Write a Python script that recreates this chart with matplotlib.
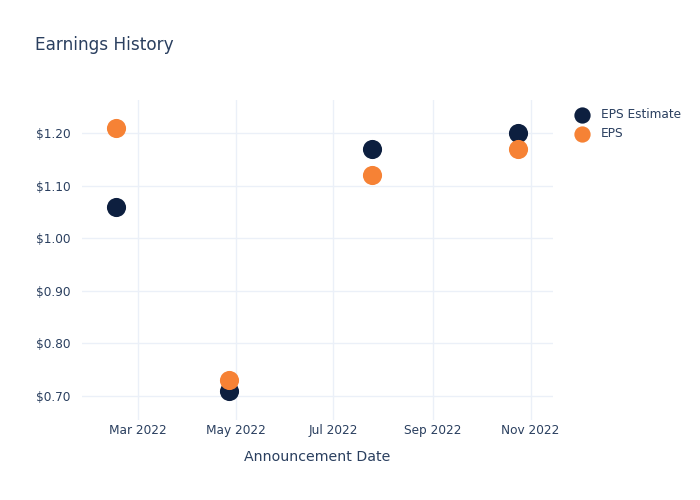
import matplotlib
matplotlib.use("Agg")
import matplotlib.pyplot as plt
import matplotlib.dates as mdates
from matplotlib.ticker import FuncFormatter
import datetime as dt

# announcement dates and values
dates = [dt.date(2022, 2, 15), dt.date(2022, 4, 27),
         dt.date(2022, 7, 25), dt.date(2022, 10, 24)]
eps_estimate = [1.06, 0.71, 1.17, 1.20]
eps_actual = [1.21, 0.73, 1.12, 1.17]
y_ticks = [0.70, 0.80, 0.90, 1.00, 1.10, 1.20]
x_ticks = [dt.date(2022, 3, 1), dt.date(2022, 5, 1), dt.date(2022, 7, 1),
           dt.date(2022, 9, 1), dt.date(2022, 11, 1)]

text_col = "#2a3f5f"
grid_col = "#ebf0f8"
navy = "#0d1f3f"
orange = "#f68235"

plt.rcParams['font.family'] = ['DejaVu Sans']

fig = plt.figure(figsize=(7, 5), dpi=100)
ax = fig.add_axes([0.117, 0.16, 0.673, 0.64])

ax.scatter(dates, eps_estimate, s=190, color=navy, label="EPS Estimate",
           zorder=3, linewidths=0)
ax.scatter(dates, eps_actual, s=190, color=orange, label="EPS",
           zorder=4, linewidths=0)

ax.set_xlim(dt.date(2022, 1, 25), dt.date(2022, 11, 15))
ax.set_ylim(0.654, 1.263)
ax.set_xticks(x_ticks)
ax.xaxis.set_major_formatter(mdates.DateFormatter("%b %Y"))
ax.set_yticks(y_ticks)
ax.yaxis.set_major_formatter(FuncFormatter(lambda v, p: "$%.2f" % v))

for s in ax.spines.values():
    s.set_visible(False)
ax.grid(True, color=grid_col, linewidth=1)
ax.set_axisbelow(True)
ax.tick_params(length=0, labelsize=8.7, colors=text_col)
ax.tick_params(axis="y", pad=8)
ax.tick_params(axis="x", pad=3)

ax.set_xlabel("Announcement Date", fontsize=10.2, color=text_col, labelpad=9)
fig.text(0.05, 0.911, "Earnings History", fontsize=12.2, color=text_col,
         va="center")

leg = ax.legend(loc="upper left", bbox_to_anchor=(1.025, 0.99), frameon=False,
                fontsize=8.7, labelcolor=text_col, handletextpad=0.6,
                borderaxespad=0, labelspacing=0.5, markerscale=0.85)

fig.savefig("out.png", dpi=100)
